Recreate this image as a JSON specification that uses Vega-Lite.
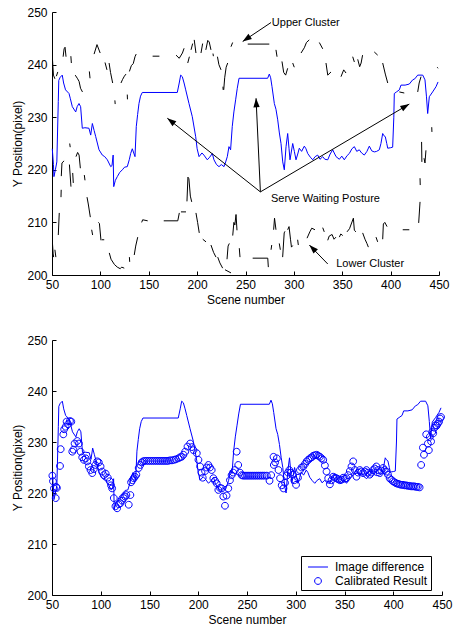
{
  "$schema": "https://vega.github.io/schema/vega-lite/v6.json",
  "padding": {"left": 11, "top": 6, "right": 3, "bottom": 2},
  "spacing": 29,
  "resolve": {"legend": {"shape": "independent"}},
  "config": {
    "font": "Liberation Sans",
    "view": {"stroke": null},
    "axis": {
      "grid": false, "domainColor": "#000", "domainWidth": 1, "tickColor": "#000", "tickWidth": 1,
      "tickSize": -4, "labelFontSize": 12, "labelColor": "#000", "labelFont": "Liberation Sans", "labelFlush": false,
      "titleFontSize": 12, "titleFontWeight": "normal", "titleColor": "#000", "titleFont": "Liberation Sans"
    },
    "axisX": {"labelPadding": 8, "titlePadding": 4},
    "axisY": {"labelPadding": 9, "titlePadding": 2}
  },
  "datasets": {
    "blue": [
      {"x":50.3,"y":224},{"x":51.5,"y":221},{"x":52,"y":218.7},{"x":53.5,"y":220},{"x":55,"y":221.5},{"x":56.5,"y":233},{"x":57,"y":237},{"x":58.5,"y":237.6},{"x":60.6,"y":238},{"x":62,"y":236.5},{"x":64,"y":235.2},{"x":67.6,"y":234.5},{"x":69,"y":233.5},{"x":71,"y":232},{"x":74.5,"y":231},{"x":76,"y":232},{"x":77.9,"y":232.6},{"x":79.6,"y":232},{"x":81.3,"y":227.9},{"x":84,"y":228},{"x":88.2,"y":227.9},{"x":90,"y":226.6},{"x":91.7,"y":228.8},{"x":93.5,"y":227.5},{"x":95.2,"y":226.3},{"x":98.6,"y":223.8},{"x":102,"y":222.8},{"x":104.5,"y":222.5},{"x":107.2,"y":221.9},{"x":110.7,"y":220.6},{"x":112,"y":220.8},{"x":113.2,"y":222.8},{"x":113.8,"y":216.8},{"x":115.5,"y":218},{"x":117.5,"y":218.7},{"x":120,"y":219.5},{"x":122.7,"y":220},{"x":125,"y":220.5},{"x":127.8,"y":220.6},{"x":130,"y":222},{"x":131.3,"y":223.1},{"x":133,"y":224},{"x":135.8,"y":222.5},{"x":137.1,"y":228.2},{"x":138.5,"y":230.5},{"x":139.9,"y":232.6},{"x":141.5,"y":234},{"x":143.3,"y":234.7},{"x":179.5,"y":234.7},{"x":181.5,"y":236.5},{"x":183,"y":238},{"x":184.7,"y":237.7},{"x":186.5,"y":236.5},{"x":188.2,"y":235.2},{"x":191.6,"y":232.6},{"x":195,"y":230.1},{"x":198.5,"y":226.3},{"x":200,"y":224},{"x":202,"y":222.5},{"x":205,"y":223.2},{"x":207,"y":222.8},{"x":210.5,"y":221.9},{"x":213,"y":222.4},{"x":215.7,"y":223.1},{"x":217.4,"y":221.9},{"x":220,"y":221},{"x":222.6,"y":220.6},{"x":225,"y":221},{"x":227.8,"y":220.6},{"x":229.5,"y":221.5},{"x":231.2,"y":222.5},{"x":232.9,"y":224.4},{"x":234.6,"y":223.8},{"x":236.3,"y":228.2},{"x":238,"y":231},{"x":239.8,"y":233.3},{"x":241.5,"y":235.5},{"x":243.3,"y":237.4},{"x":272.9,"y":237.4},{"x":274.6,"y":238.2},{"x":276,"y":237.5},{"x":277.4,"y":235.8},{"x":279.8,"y":232.6},{"x":281.5,"y":231.5},{"x":283.3,"y":229.5},{"x":285,"y":227},{"x":286.7,"y":225},{"x":288.5,"y":221.5},{"x":290.1,"y":220},{"x":291.9,"y":224.4},{"x":293.6,"y":226.9},{"x":295,"y":224},{"x":296,"y":221.9},{"x":298.8,"y":225},{"x":300.5,"y":223.5},{"x":302.2,"y":221.9},{"x":304,"y":223},{"x":305.6,"y":224.1},{"x":308,"y":223.5},{"x":310.8,"y":224.5},{"x":312.5,"y":224},{"x":314.3,"y":223.1},{"x":317,"y":222.4},{"x":319.5,"y":221.9},{"x":322,"y":222.5},{"x":324.6,"y":222.8},{"x":327,"y":222},{"x":329.8,"y":222.5},{"x":332,"y":222},{"x":335,"y":221.9},{"x":337.5,"y":223},{"x":340.1,"y":223.8},{"x":343.6,"y":222.5},{"x":347,"y":222},{"x":349.5,"y":222.6},{"x":352.1,"y":221.9},{"x":355,"y":222.7},{"x":357.3,"y":223.1},{"x":360,"y":224},{"x":362.5,"y":224.4},{"x":365,"y":223.5},{"x":367.6,"y":223.8},{"x":370,"y":223.2},{"x":372.8,"y":222.8},{"x":375.5,"y":223.5},{"x":378,"y":224.5},{"x":380.5,"y":223.6},{"x":383.1,"y":223.4},{"x":385.5,"y":223.5},{"x":388.3,"y":223.8},{"x":390,"y":225},{"x":391.8,"y":226.9},{"x":393,"y":226.5},{"x":394.5,"y":226.3},{"x":396,"y":225},{"x":397,"y":224.1},{"x":400,"y":224.2},{"x":402.1,"y":224.3},{"x":403.3,"y":230},{"x":403.8,"y":234.5},{"x":406,"y":234.8},{"x":409,"y":235.2},{"x":410.7,"y":236.1},{"x":415,"y":236.1},{"x":419.3,"y":236.3},{"x":422.8,"y":237.1},{"x":425,"y":237.3},{"x":428,"y":238},{"x":433.2,"y":238},{"x":435.5,"y":237.1},{"x":437,"y":234},{"x":438.3,"y":230.7},{"x":440,"y":233.9},{"x":443.4,"y":234.8},{"x":446.9,"y":235.8},{"x":449,"y":236.7}
    ],
    "segs": [
      {"seg":1,"x":50.5,"y":241},{"seg":1,"x":51.5,"y":238},{"seg":1,"x":53,"y":237.3},
      {"seg":2,"x":54.5,"y":237.8},{"seg":2,"x":56,"y":238.6},
      {"seg":3,"x":61.5,"y":241.5},{"seg":3,"x":62.5,"y":243},{"seg":3,"x":63.5,"y":243.3},{"seg":3,"x":64.5,"y":241.5},
      {"seg":4,"x":69.5,"y":241.6},{"seg":4,"x":70,"y":240.3},
      {"seg":5,"x":74,"y":238},{"seg":5,"x":76.5,"y":237.3},{"seg":5,"x":78,"y":236.8},{"seg":5,"x":79.5,"y":235.5},{"seg":5,"x":81.5,"y":234.8},
      {"seg":6,"x":88.6,"y":238.7},{"seg":6,"x":89.3,"y":237.4},
      {"seg":7,"x":93.5,"y":242},{"seg":7,"x":96.5,"y":243.8},{"seg":7,"x":99.8,"y":242.2},
      {"seg":8,"x":104.8,"y":240.4},{"seg":8,"x":106.8,"y":239},
      {"seg":9,"x":109,"y":240.3},{"seg":9,"x":110.5,"y":238.5},{"seg":9,"x":112.7,"y":236.5},
      {"seg":10,"x":115,"y":233.2},{"seg":10,"x":115.3,"y":232.5},
      {"seg":11,"x":121.3,"y":236.5},{"seg":11,"x":123,"y":237.2},{"seg":11,"x":124.8,"y":237.8},{"seg":11,"x":126.5,"y":238.2},
      {"seg":12,"x":127.8,"y":234.3},{"seg":12,"x":128,"y":233.4},
      {"seg":13,"x":130,"y":238.7},{"seg":13,"x":132,"y":239.8},{"seg":13,"x":134,"y":240.2},{"seg":13,"x":135.8,"y":241.5},{"seg":13,"x":137,"y":242},
      {"seg":14,"x":154,"y":241.6},{"seg":14,"x":161,"y":241.6},
      {"seg":15,"x":178.2,"y":241.8},{"seg":15,"x":181.5,"y":241.2},{"seg":15,"x":184.8,"y":242.2},{"seg":15,"x":186.5,"y":243.1},
      {"seg":16,"x":190.3,"y":240.3},{"seg":16,"x":192,"y":241.5},
      {"seg":17,"x":193.7,"y":242.8},{"seg":17,"x":195.4,"y":244},
      {"seg":18,"x":197,"y":244.7},{"seg":18,"x":198.8,"y":242.2},
      {"seg":19,"x":204,"y":242.2},{"seg":19,"x":205.7,"y":244},
      {"seg":20,"x":209,"y":242.8},{"seg":20,"x":211,"y":244.6},{"seg":20,"x":212.5,"y":244.3},{"seg":20,"x":214.3,"y":242.8},
      {"seg":21,"x":216.4,"y":242.1},{"seg":21,"x":216.8,"y":241.6},
      {"seg":22,"x":221,"y":241.5},{"seg":22,"x":222.5,"y":240},{"seg":22,"x":224.7,"y":239},
      {"seg":23,"x":226.7,"y":235.8},{"seg":23,"x":226.9,"y":235.2},
      {"seg":24,"x":227.5,"y":235.2},{"seg":24,"x":228.5,"y":237.5},{"seg":24,"x":230,"y":239.5},{"seg":24,"x":231.6,"y":240.3},
      {"seg":25,"x":235,"y":243.4},{"seg":25,"x":236.7,"y":244.2},
      {"seg":26,"x":252.3,"y":243.9},{"seg":26,"x":274.6,"y":243.9},
      {"seg":27,"x":281.5,"y":242.8},{"seg":27,"x":282.6,"y":241.5},
      {"seg":28,"x":287.7,"y":240.6},{"seg":28,"x":289.5,"y":238.5},{"seg":28,"x":291.5,"y":238},{"seg":28,"x":293.6,"y":239.3},
      {"seg":29,"x":298.8,"y":240.3},{"seg":29,"x":300.4,"y":239.5},
      {"seg":30,"x":307.4,"y":242.2},{"seg":30,"x":310.8,"y":243.2},{"seg":30,"x":313,"y":244.2},{"seg":30,"x":315.9,"y":244.7},
      {"seg":31,"x":326.3,"y":244.2},{"seg":31,"x":329.8,"y":243},
      {"seg":32,"x":333.2,"y":240.3},{"seg":32,"x":335,"y":238},{"seg":32,"x":338.4,"y":238.6},
      {"seg":33,"x":348.7,"y":237.7},{"seg":33,"x":351.5,"y":239},{"seg":33,"x":353.9,"y":238.4},
      {"seg":34,"x":360.8,"y":241.5},{"seg":34,"x":362.5,"y":240.5},
      {"seg":35,"x":366,"y":241},{"seg":35,"x":368,"y":239.6},{"seg":35,"x":369.5,"y":240.3},{"seg":35,"x":371,"y":241.8},
      {"seg":36,"x":383.1,"y":242.4},{"seg":36,"x":386.6,"y":241.8},
      {"seg":37,"x":391.8,"y":240.3},{"seg":37,"x":394.5,"y":238.2},{"seg":37,"x":397,"y":236.5},
      {"seg":38,"x":409,"y":234.8},{"seg":38,"x":414.1,"y":234.6},
      {"seg":39,"x":428,"y":234.8},{"seg":39,"x":429.5,"y":236.5},{"seg":39,"x":431.4,"y":237.7},
      {"seg":40,"x":448.2,"y":239.5},{"seg":40,"x":449,"y":239.3},
      {"seg":41,"x":50.5,"y":206},{"seg":41,"x":51.2,"y":204},{"seg":41,"x":51.7,"y":203.4},
      {"seg":42,"x":53,"y":204.8},{"seg":42,"x":54,"y":203.4},
      {"seg":43,"x":56.5,"y":207.6},{"seg":43,"x":57.5,"y":211.8},
      {"seg":44,"x":59.3,"y":214.8},{"seg":44,"x":59.5,"y":216.2},
      {"seg":45,"x":59.6,"y":218.8},{"seg":45,"x":60.3,"y":221.3},{"seg":45,"x":62.5,"y":221.7},
      {"seg":46,"x":68,"y":221},{"seg":46,"x":69.6,"y":216.8},
      {"seg":47,"x":71.4,"y":219.4},{"seg":47,"x":72,"y":217.5},
      {"seg":48,"x":74.8,"y":222.5},{"seg":48,"x":76.5,"y":223.3},{"seg":48,"x":78,"y":222.8},{"seg":48,"x":79.3,"y":220.3},
      {"seg":49,"x":68.3,"y":225},{"seg":49,"x":68.8,"y":224.3},
      {"seg":50,"x":83.4,"y":219},{"seg":50,"x":84.1,"y":218},
      {"seg":51,"x":86.2,"y":214.8},{"seg":51,"x":87.5,"y":213.5},{"seg":51,"x":89.6,"y":211},
      {"seg":52,"x":91,"y":208.6},{"seg":52,"x":92,"y":207.6},
      {"seg":53,"x":97.9,"y":210},{"seg":53,"x":99,"y":209.8},{"seg":53,"x":100.6,"y":206.6},
      {"seg":54,"x":101.4,"y":206.7},{"seg":54,"x":104,"y":206.7},
      {"seg":55,"x":109.2,"y":204.2},{"seg":55,"x":111,"y":203},{"seg":55,"x":114.5,"y":202},{"seg":55,"x":117.5,"y":201.5},{"seg":55,"x":120.5,"y":201.2},{"seg":55,"x":122,"y":201.5},{"seg":55,"x":124.7,"y":201.3},
      {"seg":56,"x":130,"y":203.4},{"seg":56,"x":130.3,"y":202.5},
      {"seg":57,"x":135,"y":203.8},{"seg":57,"x":136.5,"y":205.5},{"seg":57,"x":138.6,"y":207.2},
      {"seg":58,"x":142.7,"y":210},{"seg":58,"x":143.7,"y":210.5},{"seg":58,"x":148.9,"y":210.3},
      {"seg":59,"x":165.5,"y":210.3},{"seg":59,"x":180,"y":210.3},{"seg":59,"x":181.6,"y":211.8},
      {"seg":60,"x":183.3,"y":212},{"seg":60,"x":188.5,"y":212},
      {"seg":61,"x":189.5,"y":214},{"seg":61,"x":190.5,"y":218.6},{"seg":61,"x":191.5,"y":218.3},{"seg":61,"x":193,"y":215},{"seg":61,"x":194.4,"y":213.9},
      {"seg":62,"x":198.8,"y":211.8},{"seg":62,"x":200.5,"y":210},{"seg":62,"x":202.2,"y":208},
      {"seg":63,"x":205.8,"y":206.8},{"seg":63,"x":209.2,"y":206.3},
      {"seg":64,"x":214.3,"y":205.7},{"seg":64,"x":217,"y":204.3},{"seg":64,"x":219.5,"y":203.4},
      {"seg":65,"x":221.3,"y":203.4},{"seg":65,"x":223.5,"y":202.3},{"seg":65,"x":226.4,"y":201.3},
      {"seg":66,"x":228.8,"y":201},{"seg":66,"x":235,"y":200.4},
      {"seg":67,"x":230.9,"y":203},{"seg":67,"x":232,"y":205.5},{"seg":67,"x":233.3,"y":206},
      {"seg":68,"x":236.8,"y":207.5},{"seg":68,"x":238,"y":210},{"seg":68,"x":239,"y":209.5},{"seg":68,"x":240.2,"y":211.5},{"seg":68,"x":241.2,"y":208.5},
      {"seg":69,"x":243.6,"y":205.1},{"seg":69,"x":244.3,"y":203.4},
      {"seg":70,"x":257.4,"y":203.2},{"seg":70,"x":273,"y":203.2},{"seg":70,"x":273.6,"y":201.5},
      {"seg":71,"x":276.4,"y":204.8},{"seg":71,"x":277.1,"y":205.7},
      {"seg":72,"x":279.1,"y":208.6},{"seg":72,"x":280,"y":210.8},{"seg":72,"x":281.5,"y":208.6},
      {"seg":73,"x":284.9,"y":206},{"seg":73,"x":286,"y":204.8},
      {"seg":74,"x":288.4,"y":203.4},{"seg":74,"x":290,"y":208},{"seg":74,"x":290.8,"y":208.3},
      {"seg":75,"x":293.6,"y":208.6},{"seg":75,"x":295,"y":209.2},{"seg":75,"x":296.5,"y":206.8},{"seg":75,"x":297.5,"y":205.3},{"seg":75,"x":298.8,"y":205.6},
      {"seg":76,"x":303.9,"y":206.7},{"seg":76,"x":304.6,"y":205.7},
      {"seg":77,"x":313.6,"y":207},{"seg":77,"x":316.5,"y":208.2},{"seg":77,"x":318.5,"y":208.9},{"seg":77,"x":321.8,"y":208.6},
      {"seg":78,"x":329.8,"y":209},{"seg":78,"x":331.4,"y":208.2},
      {"seg":79,"x":335,"y":206.6},{"seg":79,"x":336.5,"y":207.4},{"seg":79,"x":339.5,"y":207.7},{"seg":79,"x":341.5,"y":206.8},{"seg":79,"x":343.5,"y":207.2},
      {"seg":80,"x":347,"y":207.2},{"seg":80,"x":348.5,"y":207.8},{"seg":80,"x":350.5,"y":207.5},
      {"seg":81,"x":354.9,"y":208.2},{"seg":81,"x":357.5,"y":208.8},{"seg":81,"x":361.5,"y":210.8},{"seg":81,"x":362.5,"y":208.5},{"seg":81,"x":364.2,"y":208.2},
      {"seg":82,"x":371.1,"y":208},{"seg":82,"x":373.5,"y":206.8},{"seg":82,"x":375.5,"y":206},{"seg":82,"x":377,"y":205.3},
      {"seg":83,"x":384.9,"y":207.2},{"seg":83,"x":386.6,"y":206.3},
      {"seg":84,"x":391.8,"y":206.8},{"seg":84,"x":392.5,"y":209.7},{"seg":84,"x":394,"y":210},{"seg":84,"x":396.3,"y":209.2},
      {"seg":85,"x":412.5,"y":208.6},{"seg":85,"x":419.3,"y":208.6},
      {"seg":86,"x":429,"y":209.9},{"seg":86,"x":430.4,"y":213.9},
      {"seg":87,"x":430.4,"y":218.4},{"seg":87,"x":430.6,"y":217.1},
      {"seg":88,"x":432,"y":225.3},{"seg":88,"x":432.3,"y":221.5},
      {"seg":89,"x":434.5,"y":222.2},{"seg":89,"x":435.5,"y":221.3},{"seg":89,"x":436.5,"y":223.7},
      {"seg":90,"x":442.5,"y":228.1},{"seg":90,"x":442.7,"y":227.2}
    ],
    "circles": [
      {"x":50.4,"y":223.4},{"x":51,"y":222.3},{"x":52,"y":220.9},{"x":53.8,"y":219},{"x":54.3,"y":221.2},{"x":55,"y":221},{"x":58.2,"y":225.3},{"x":58.9,"y":228.6},{"x":61.6,"y":231.5},{"x":62.5,"y":232.5},{"x":64,"y":233},{"x":65,"y":234},{"x":66.5,"y":233.5},{"x":68.4,"y":234.1},{"x":69.8,"y":234},{"x":70.8,"y":228.1},{"x":72,"y":228.5},{"x":73.2,"y":229.7},{"x":75.9,"y":230.2},{"x":77.6,"y":229.7},{"x":79.3,"y":228.1},{"x":81,"y":227},{"x":82.7,"y":226.5},{"x":84.5,"y":226.8},{"x":86.2,"y":226.2},{"x":87.8,"y":225.2},{"x":89.5,"y":224.5},{"x":91.3,"y":223.9},{"x":92.9,"y":224.7},{"x":94.5,"y":225.5},{"x":96.4,"y":226.2},{"x":98,"y":226},{"x":99.8,"y":225.2},{"x":101.5,"y":224.2},{"x":103.1,"y":223.5},{"x":105,"y":223.8},{"x":107.2,"y":223},{"x":109.2,"y":222.3},{"x":110.5,"y":221.5},{"x":111.7,"y":220.9},{"x":113.4,"y":219},{"x":115.1,"y":217.4},{"x":116.8,"y":217},{"x":118.5,"y":217.8},{"x":120.2,"y":218},{"x":121.8,"y":218.5},{"x":123.5,"y":219},{"x":125,"y":219.3},{"x":126.3,"y":219.6},{"x":128.7,"y":217.7},{"x":130.4,"y":219.6},{"x":131.1,"y":222.1},{"x":132.5,"y":222.5},{"x":133.8,"y":222.9},{"x":135,"y":223.2},{"x":136.5,"y":223.6},{"x":138.9,"y":224.9},{"x":140.6,"y":225.5},{"x":142,"y":226},{"x":143.4,"y":226.2},{"x":145,"y":226.3},{"x":147,"y":226.3},{"x":149,"y":226.3},{"x":151,"y":226.3},{"x":153,"y":226.3},{"x":155,"y":226.3},{"x":157,"y":226.3},{"x":159,"y":226.3},{"x":161,"y":226.3},{"x":163,"y":226.3},{"x":165,"y":226.3},{"x":167,"y":226.3},{"x":169,"y":226.3},{"x":171,"y":226.4},{"x":173,"y":226.4},{"x":175,"y":226.5},{"x":177,"y":226.6},{"x":179.7,"y":226.8},{"x":181.3,"y":227},{"x":183,"y":227.1},{"x":184.8,"y":227.5},{"x":186.6,"y":228.1},{"x":189,"y":229.1},{"x":191.7,"y":229.7},{"x":193.4,"y":229},{"x":195.1,"y":228.4},{"x":198.5,"y":227.8},{"x":200.2,"y":226.5},{"x":201.9,"y":225.2},{"x":203.3,"y":224},{"x":204.6,"y":223},{"x":207,"y":224.3},{"x":208.7,"y":225},{"x":210.4,"y":225.5},{"x":212,"y":225},{"x":213.8,"y":224.5},{"x":215.5,"y":222.9},{"x":217.2,"y":222.4},{"x":218.9,"y":221.9},{"x":220.6,"y":220.6},{"x":222.3,"y":221},{"x":224,"y":220.9},{"x":225.7,"y":219.3},{"x":227.4,"y":217.5},{"x":229,"y":219.5},{"x":230.8,"y":220.9},{"x":232.5,"y":222.5},{"x":234.2,"y":223.5},{"x":235.9,"y":224},{"x":237.6,"y":224.5},{"x":239.4,"y":228.1},{"x":241,"y":225.5},{"x":242.8,"y":224},{"x":244.5,"y":223.5},{"x":246,"y":223.4},{"x":248,"y":223.4},{"x":250,"y":223.4},{"x":252,"y":223.4},{"x":254,"y":223.4},{"x":256,"y":223.4},{"x":258,"y":223.4},{"x":260,"y":223.4},{"x":262,"y":223.4},{"x":264,"y":223.4},{"x":266,"y":223.4},{"x":268,"y":223.4},{"x":270.3,"y":223.4},{"x":273.1,"y":222.4},{"x":274.8,"y":223.5},{"x":277.2,"y":227.1},{"x":277.5,"y":225.5},{"x":278.9,"y":226},{"x":280.6,"y":226.8},{"x":282.3,"y":224.5},{"x":283.9,"y":222.9},{"x":285.6,"y":221.5},{"x":287.4,"y":220.9},{"x":289,"y":222},{"x":290.7,"y":223.4},{"x":292,"y":224},{"x":293.4,"y":224.5},{"x":295,"y":224},{"x":296.8,"y":223.6},{"x":298.5,"y":222.5},{"x":300.3,"y":221.6},{"x":302.3,"y":223},{"x":304.3,"y":224.5},{"x":306,"y":225},{"x":307.8,"y":225.2},{"x":309.5,"y":225.7},{"x":311.2,"y":226.2},{"x":312.9,"y":226.5},{"x":314.6,"y":226.8},{"x":316.3,"y":227},{"x":318,"y":227.3},{"x":319.7,"y":227.4},{"x":321.4,"y":227.5},{"x":323.1,"y":227.3},{"x":324.8,"y":227.1},{"x":326.5,"y":226.8},{"x":328.2,"y":226.5},{"x":329.9,"y":225.4},{"x":331.6,"y":224.2},{"x":333.3,"y":222.9},{"x":335,"y":221.7},{"x":336.7,"y":222.5},{"x":338.4,"y":223.2},{"x":340.1,"y":223},{"x":341.8,"y":222.9},{"x":343.5,"y":222.7},{"x":345.2,"y":222.5},{"x":346.9,"y":222.6},{"x":348.6,"y":223},{"x":350.3,"y":222.8},{"x":352,"y":222.9},{"x":353.7,"y":223.5},{"x":355.5,"y":224.3},{"x":357.2,"y":225.2},{"x":358.9,"y":226.2},{"x":360.6,"y":224.5},{"x":362.3,"y":223.2},{"x":364,"y":224},{"x":365.7,"y":224.5},{"x":367.4,"y":224.2},{"x":369.1,"y":223.9},{"x":370.8,"y":224.2},{"x":372.5,"y":224.5},{"x":374.2,"y":224},{"x":375.9,"y":223.6},{"x":377.6,"y":224},{"x":379.3,"y":224.5},{"x":381,"y":224.8},{"x":382.7,"y":225.2},{"x":384.4,"y":224.5},{"x":386.1,"y":223.9},{"x":387.8,"y":224.4},{"x":389.5,"y":224.9},{"x":391.2,"y":224.5},{"x":392.9,"y":224.2},{"x":394.6,"y":223.6},{"x":396.3,"y":222.9},{"x":398,"y":222.6},{"x":399.7,"y":222.3},{"x":401.4,"y":222.1},{"x":403.1,"y":221.9},{"x":404.8,"y":221.8},{"x":406.5,"y":221.7},{"x":408.2,"y":221.6},{"x":410,"y":221.6},{"x":411.7,"y":221.5},{"x":413.3,"y":221.5},{"x":415,"y":221.4},{"x":416.7,"y":221.4},{"x":418.4,"y":221.3},{"x":420.1,"y":221.3},{"x":421.8,"y":221.3},{"x":423.5,"y":221.2},{"x":425.2,"y":221.2},{"x":427,"y":221.1},{"x":428.6,"y":225.5},{"x":430.4,"y":228.9},{"x":431.5,"y":227.5},{"x":433.8,"y":231.5},{"x":435.5,"y":229.7},{"x":436.5,"y":228.4},{"x":437.5,"y":231},{"x":438.8,"y":230.1},{"x":440,"y":232},{"x":441,"y":231.7},{"x":442.3,"y":232.8},{"x":443.5,"y":233.3},{"x":444.5,"y":233.2},{"x":445.7,"y":233.6},{"x":447,"y":234},{"x":448,"y":234.6},{"x":449,"y":234.9}
    ],
    "arrows": [
      {"id":"A","x":276.4,"y":248,"x2":247.1,"y2":244.4},
      {"id":"B","x":265.4,"y":215.8,"x2":169.2,"y2":229.8},
      {"id":"C","x":265.4,"y":215.8,"x2":260.9,"y2":233.6},
      {"id":"D","x":265.4,"y":215.8,"x2":419.3,"y2":232.5},
      {"id":"E","x":335,"y":202.1,"x2":316,"y2":205.7}
    ],
    "heads": [
      {"id":"A","x":247.1,"y":244.4},
      {"id":"B","x":169.2,"y":229.8},
      {"id":"C","x":260.9,"y":233.6},
      {"id":"D","x":419.3,"y":232.5},
      {"id":"E","x":316,"y":205.7}
    ],
    "labels": [
      {"label":"Upper Cluster","x":277.2,"y":248},
      {"label":"Serve Waiting Posture","x":276.3,"y":214.4},
      {"label":"Lower Cluster","x":343.8,"y":202.1}
    ]
  },
  "vconcat": [
    {
      "width": 387,
      "height": 263,
      "encoding": {
        "x": {"field": "x", "type": "quantitative", "scale": {"domain": [50, 450], "nice": false, "zero": false}, "axis": {"values": [50,100,150,200,250,300,350,400,450], "title": "Scene number"}},
        "y": {"field": "y", "type": "quantitative", "scale": {"domain": [200, 250], "nice": false, "zero": false}, "axis": {"values": [200,210,220,230,240,250], "title": "Y Position(pixel)"}}
      },
      "layer": [
        {"data": {"name": "segs"}, "mark": {"type": "line", "color": "#000", "strokeWidth": 1}, "encoding": {"detail": {"field": "seg", "type": "nominal"}}},
        {"data": {"name": "blue"}, "mark": {"type": "line", "color": "#0000ff", "strokeWidth": 1}},
        {"data": {"name": "arrows"}, "mark": {"type": "rule", "color": "#000", "strokeWidth": 1}, "encoding": {"x2": {"field": "x2"}, "y2": {"field": "y2"}}},
        {"data": {"name": "heads"}, "transform": [{"filter": "datum.id === 'A'"}], "mark": {"type": "point", "shape": "M0,0L-0.35,1L0.35,1Z", "filled": true, "color": "#000", "opacity": 1, "size": 324, "angle": 236}},
        {"data": {"name": "heads"}, "transform": [{"filter": "datum.id === 'B'"}], "mark": {"type": "point", "shape": "M0,0L-0.35,1L0.35,1Z", "filled": true, "color": "#000", "opacity": 1, "size": 324, "angle": 308}},
        {"data": {"name": "heads"}, "transform": [{"filter": "datum.id === 'C'"}], "mark": {"type": "point", "shape": "M0,0L-0.35,1L0.35,1Z", "filled": true, "color": "#000", "opacity": 1, "size": 324, "angle": 357}},
        {"data": {"name": "heads"}, "transform": [{"filter": "datum.id === 'D'"}], "mark": {"type": "point", "shape": "M0,0L-0.35,1L0.35,1Z", "filled": true, "color": "#000", "opacity": 1, "size": 324, "angle": 59.5}},
        {"data": {"name": "heads"}, "transform": [{"filter": "datum.id === 'E'"}], "mark": {"type": "point", "shape": "M0,0L-0.35,1L0.35,1Z", "filled": true, "color": "#000", "opacity": 1, "size": 324, "angle": 315}},
        {"data": {"name": "labels"}, "mark": {"type": "text", "align": "left", "baseline": "middle", "fontSize": 11, "color": "#000", "font": "Liberation Sans"}, "encoding": {"text": {"field": "label"}}}
      ]
    },
    {
      "width": 390,
      "height": 255,
      "encoding": {
        "x": {"field": "x", "type": "quantitative", "scale": {"domain": [50, 450], "nice": false, "zero": false}, "axis": {"values": [50,100,150,200,250,300,350,400,450], "title": "Scene number"}},
        "y": {"field": "y", "type": "quantitative", "scale": {"domain": [200, 250], "nice": false, "zero": false}, "axis": {"values": [200,210,220,230,240,250], "title": "Y Position(pixel)"}}
      },
      "layer": [
        {"data": {"name": "blue"}, "mark": {"type": "line", "color": "#0000ff", "strokeWidth": 1}},
        {
          "data": {"name": "circles"},
          "mark": {"type": "point", "filled": false, "color": "#0000ff", "strokeWidth": 1, "opacity": 1, "size": 225},
          "encoding": {
            "shape": {
              "datum": "Calibrated Result",
              "type": "nominal",
              "scale": {"domain": ["Image difference", "Calibrated Result"], "range": ["M-1.333,0H1.333", "M0.453,0A0.453,0.453 0 1,1 -0.453,0A0.453,0.453 0 1,1 0.453,0Z"]},
              "legend": {
                "title": null, "orient": "none", "legendX": 249, "legendY": 216,
                "strokeColor": "#000", "fillColor": "#fff", "padding": 3, "rowPadding": 0,
                "symbolSize": 225, "symbolStrokeColor": "#0000ff", "symbolFillColor": "transparent", "symbolStrokeWidth": 1,
                "symbolOffset": 6, "labelOffset": 9,
                "labelFontSize": 12, "labelColor": "#000", "labelFont": "Liberation Sans"
              }
            }
          }
        }
      ]
    }
  ]
}
